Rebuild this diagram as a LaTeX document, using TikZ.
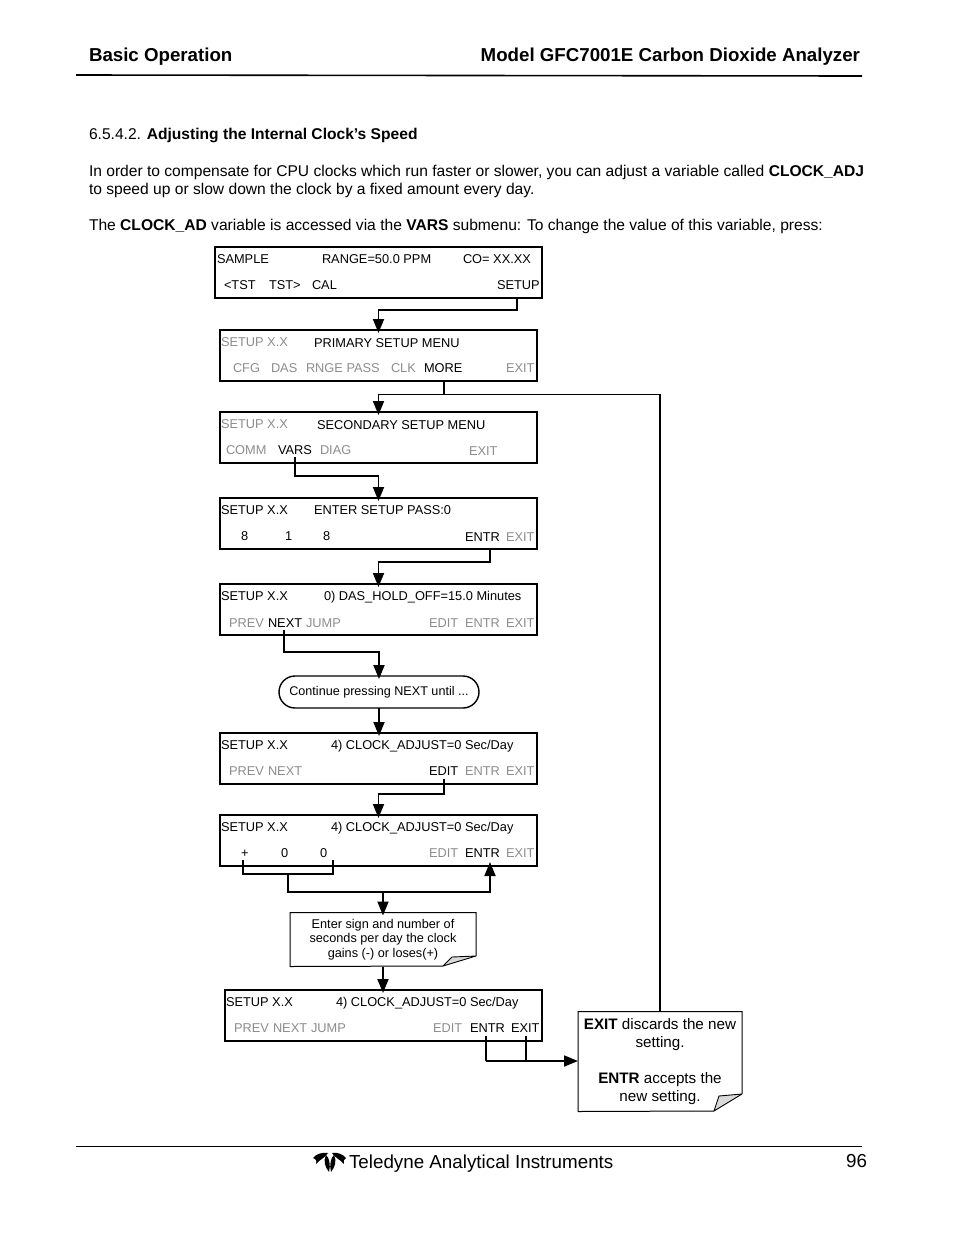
\documentclass[tikz,border=0pt]{standalone}
\usepackage{fontspec}
\setmainfont{Liberation Sans}
\usetikzlibrary{arrows.meta}
\definecolor{keygray}{gray}{0.55}
\definecolor{foldgray}{gray}{0.85}
\newcommand\pg[4]{\node[pagetext] (#1) at (#2,#3) {#4};}
\newcommand\kb[4]{\node[keytext] (#1) at (#2,#3) {#4};}
\newcommand\kg[4]{\node[keytext,text=keygray] (#1) at (#2,#3) {#4};}
\tikzset{
  pagetext/.style={anchor=base west,inner sep=0pt,outer sep=0pt,font=\fontsize{15.6}{18}\selectfont},
  keytext/.style={anchor=base west,inner sep=0pt,outer sep=0pt,font=\fontsize{12.8}{14}\selectfont},
  screen/.style={draw,line width=1.8pt,minimum width=317pt,minimum height=51pt,inner sep=0pt,outer sep=0pt},
  wire/.style={line width=1.8pt},
  flow/.style={line width=1.8pt,-{Stealth[length=14pt,width=11pt,inset=0pt]},shorten >=-3pt},
  notebox/.style={inner sep=0pt,outer sep=0pt,align=center},
  noteline/.style={draw,line width=1pt,line join=miter,line cap=butt},
  foldshape/.style={draw,fill=foldgray,line width=0.9pt,line join=bevel},
}
\begin{document}
\begin{tikzpicture}[x=1pt,y=-1pt]
\useasboundingbox (0,0) rectangle (954,1235);
% page header
\node[pagetext,font=\fontsize{18.7}{22}\selectfont\bfseries] (hl) at (89,61) {Basic Operation};
\node[pagetext,anchor=base east,font=\fontsize{18.7}{22}\selectfont\bfseries] (hr) at (860,61) {Model GFC7001E Carbon Dioxide Analyzer};
\coordinate (hrl) at (76,75);
\coordinate (hrr) at (862,76);
\draw[line width=1.6pt] (hrl) -- (hrr);
\pg{sec}{89}{139}{6.5.4.2. \textbf{Adjusting the Internal Clock’s Speed}}
\pg{p1}{89}{176}{In order to compensate for CPU clocks which run faster or slower, you can adjust a variable called \textbf{CLOCK\_ADJ}}
\pg{p2}{89}{194}{to speed up or slow down the clock by a fixed amount every day.}
\pg{p3}{89}{230}{The \textbf{CLOCK\_AD} variable is accessed via the \textbf{VARS} submenu: To change the value of this variable, press:}
% screens
\node[screen,minimum width=327pt] (s0) at (378.5,272.5) {};
\node[screen] (s1) at (378.5,355.5) {};
\node[screen] (s2) at (378.5,437.5) {};
\node[screen] (s3) at (378.5,523.5) {};
\node[screen] (s4) at (378.5,609.5) {};
\node[screen] (s5) at (378.5,758.5) {};
\node[screen] (s6) at (378.5,840.5) {};
\node[screen] (s7) at (383.5,1015.5) {};
% screen 0
\kb{a1}{217}{263}{SAMPLE}\kb{a2}{322}{263}{RANGE=50.0 PPM}\kb{a3}{463}{263}{CO= XX.XX}
\kb{a4}{224}{289}{<TST}\kb{a5}{269}{289}{TST>}\kb{a6}{312}{289}{CAL}\kb{a7}{497}{289}{SETUP}
% screen 1
\kg{b1}{221}{346}{SETUP X.X}\kb{b2}{314}{347}{PRIMARY SETUP MENU}
\kg{b3}{233}{372}{CFG}\kg{b4}{271}{372}{DAS}\kg{b5}{306}{372}{RNGE PASS}\kg{b6}{391}{372}{CLK}\kb{b7}{424}{372}{MORE}\kg{b8}{506}{372}{EXIT}
% screen 2
\kg{c1}{221}{428}{SETUP X.X}\kb{c2}{317}{429}{SECONDARY SETUP MENU}
\kg{c3}{226}{454}{COMM}\kb{c4}{278}{454}{VARS}\kg{c5}{320}{454}{DIAG}\kg{c6}{469}{455}{EXIT}
% screen 3
\kb{d1}{221}{514}{SETUP X.X}\kb{d2}{314}{514}{ENTER SETUP PASS:0}
\kb{d3}{241}{540}{8}\kb{d4}{285}{540}{1}\kb{d5}{323}{540}{8}\kb{d6}{465}{541}{ENTR}\kg{d7}{506}{541}{EXIT}
% screen 4
\kb{e1}{221}{600}{SETUP X.X}\kb{e2}{324}{600}{0) DAS\_HOLD\_OFF=15.0 Minutes}
\kg{e3}{229}{627}{PREV}\kb{e4}{268}{627}{NEXT}\kg{e5}{306}{627}{JUMP}\kg{e6}{429}{627}{EDIT}\kg{e7}{465}{627}{ENTR}\kg{e8}{506}{627}{EXIT}
% screen 5
\kb{f1}{221}{749}{SETUP X.X}\kb{f2}{331}{749}{4) CLOCK\_ADJUST=0 Sec/Day}
\kg{f3}{229}{775}{PREV}\kg{f4}{268}{775}{NEXT}\kb{f5}{429}{775}{EDIT}\kg{f6}{465}{775}{ENTR}\kg{f7}{506}{775}{EXIT}
% screen 6
\kb{g1}{221}{831.5}{SETUP X.X}\kb{g2}{331}{831.5}{4) CLOCK\_ADJUST=0 Sec/Day}
\kb{g3}{241}{857.5}{+}\kb{g4}{281}{857.5}{0}\kb{g5}{320}{857.5}{0}\kg{g6}{429}{857.5}{EDIT}\kb{g7}{465}{857.5}{ENTR}\kg{g8}{506}{857.5}{EXIT}
% screen 7
\kb{h1}{226}{1006}{SETUP X.X}\kb{h2}{336}{1006}{4) CLOCK\_ADJUST=0 Sec/Day}
\kg{h3}{234}{1032}{PREV}\kg{h4}{273}{1032}{NEXT}\kg{h5}{311}{1032}{JUMP}\kg{h6}{433}{1032}{EDIT}\kb{h7}{470}{1032}{ENTR}\kb{h8}{511}{1032}{EXIT}
% oval
\node[draw,line width=1.4pt,rounded corners=16pt,minimum width=200pt,minimum height=32pt,inner sep=0pt,outer sep=0pt,font=\fontsize{12.6}{15}\selectfont] (oval) at (379,692) {Continue pressing NEXT until ...};
% notes
\node[notebox,minimum width=186pt,minimum height=54pt,font=\fontsize{12.7}{14.7}\selectfont] (n1) at (383,939.5) {Enter sign and number of\\seconds per day the clock\\gains (-) or loses(+)};
\coordinate (n1a) at (443,966);
\coordinate (n1b) at (476,956);
\coordinate (n1c) at (452,957);
\draw[noteline] (n1b) -- (n1.north east) -- (n1.north west) -- (n1.south west) -- (n1a);
\draw[foldshape] (n1a) -- (n1c) -- (n1b) -- cycle;
\node[notebox,minimum width=164pt,minimum height=100pt,font=\fontsize{15.2}{18}\selectfont] (n2) at (660,1061.5) {\textbf{EXIT} discards the new\\setting.\\[18pt]\textbf{ENTR} accepts the\\new setting.};
\coordinate (n2a) at (714,1111);
\coordinate (n2b) at (742,1094);
\coordinate (n2c) at (719,1096);
\draw[noteline] (n2b) -- (n2.north east) -- (n2.north west) -- (n2.south west) -- (n2a);
\draw[foldshape] (n2a) -- (n2c) -- (n2b) -- cycle;
% connectors
\coordinate (j0) at (517,310);
\draw[flow] (j0 |- s0.south) -- (j0) -- (j0 -| s1.north) -- (s1.north);
\coordinate (j1) at (444,394.5);
\coordinate (j1r) at (660,394.5);
\draw[flow] (j1 |- s1.south) -- (j1) -- (j1 -| s2.north) -- (s2.north);
\draw[wire] (j1) -- (j1r) -- (j1r |- n2.north);
\coordinate (j2) at (295,476);
\draw[flow] (295,457) -- (j2) -- (j2 -| s3.north) -- (s3.north);
\coordinate (j3) at (490,562);
\draw[flow] (j3 |- s3.south) -- (j3) -- (j3 -| s4.north) -- (s4.north);
\coordinate (j4) at (284,652);
\draw[flow] (284,630) -- (j4) -- (j4 -| oval.north) -- (oval.north);
\draw[flow] (oval.south) -- (oval.south |- s5.north);
\coordinate (j5) at (444,794);
\draw[flow] (444,779) -- (j5) -- (j5 -| s6.north) -- (s6.north);
\coordinate (j6a) at (243,874);
\coordinate (j6b) at (333,874);
\coordinate (j6c) at (288,874);
\coordinate (j6d) at (288,892);
\coordinate (j6e) at (490,892);
\coordinate (j6f) at (383,892);
\draw[wire] (243,860) -- (j6a) -- (j6b) -- (333,860);
\draw[flow,shorten >=0pt] (j6c) -- (j6d) -- (j6e) -- (490,862);
\draw[flow] (j6f) -- (j6f |- n1.north);
\draw[flow] (n1.south) -- (n1.south |- s7.north);
\coordinate (j7a) at (486,1061);
\coordinate (j7b) at (526,1061);
\draw[wire] (486,1036) -- (j7a);
\draw[wire] (526,1036) -- (j7b);
\draw[flow,shorten >=0pt] (j7a) -- (j7a -| n2.west);
% footer
\coordinate (frl) at (76,1146.5);
\coordinate (frr) at (862,1146.5);
\draw[line width=1pt] (frl) -- (frr);
\fill (329,1172) .. controls (325,1167) and (323,1161) .. (326,1155) .. controls (329,1157) and (331,1165) .. (329,1172) -- cycle;
\fill (331,1172) .. controls (335,1167) and (337,1161) .. (334,1155) .. controls (331,1157) and (329,1165) .. (331,1172) -- cycle;
\fill (313,1158) .. controls (316,1154) and (322,1152) .. (328,1153) .. controls (325,1158) and (319,1160) .. (316,1164) .. controls (317,1161) and (316,1159) .. (313,1158) -- cycle;
\fill (346,1158) .. controls (343,1154) and (337,1152) .. (332,1153) .. controls (335,1158) and (341,1160) .. (344,1164) .. controls (343,1161) and (344,1159) .. (346,1158) -- cycle;
\node[pagetext,font=\fontsize{18.8}{22}\selectfont] (ft) at (349,1168) {Teledyne Analytical Instruments};
\node[pagetext,anchor=base east,font=\fontsize{18.8}{22}\selectfont] (fn) at (867,1167.5) {96};
\end{tikzpicture}
\end{document}
